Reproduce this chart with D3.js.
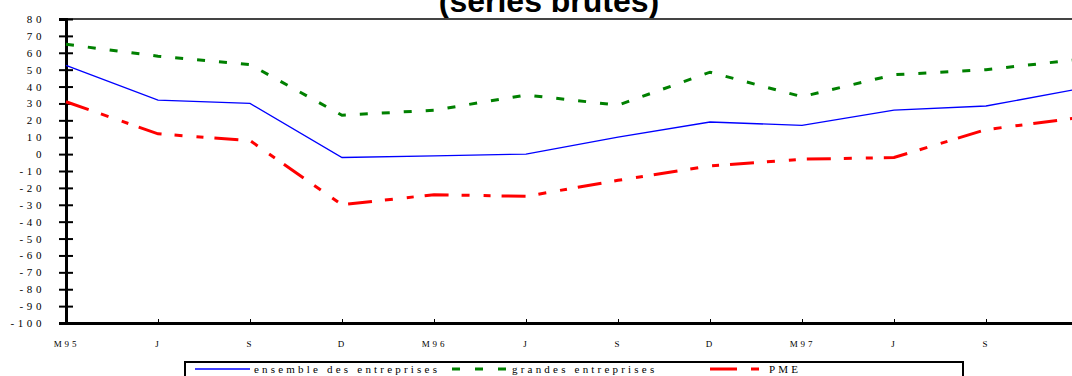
<!DOCTYPE html>
<html><head><meta charset="utf-8">
<script src="https://cdn.jsdelivr.net/npm/d3@7"></script>
<style>body{margin:0;background:#fff}svg{display:block}
.serif{font-family:"Liberation Serif","Times New Roman",serif}</style>
</head><body>
<svg id="c" width="1072" height="376"></svg>
<script>
const categories = ["M95","J","S","D","M96","J","S","D","M97","J","S",""];
const ensemble = [52.5, 32, 30, -2, -1, 0, 10, 19, 17, 26, 28.5, 38.5];
const grandes  = [65, 58, 53, 23, 26, 35, 29, 48.5, 34, 47, 50, 56];
const pme      = [31, 12, 8, -30, -24, -25, -15.5, -7, -3, -2, 14.5, 21.5];
const yTicks = d3.range(-100, 81, 10);
const title = "(séries brutes)";
const legendLabels = ["ensemble des entreprises", "grandes entreprises", "PME"];

const svg = d3.select("#c");
const x = d3.scaleLinear().domain([0, 11]).range([66, 1078]);
const y = d3.scaleLinear().domain([-100, 80]).range([323, 19]);

// title
svg.append("text").attr("x", 549).attr("y", 11.5).attr("text-anchor", "middle")
  .style("font-family", "'Liberation Sans', Arial, sans-serif").attr("font-weight", "bold")
  .attr("font-size", 32).text(title);

// top border
svg.append("line").attr("x1", x(0)).attr("x2", 1072).attr("y1", y(80)).attr("y2", y(80))
  .attr("stroke", "#444").attr("stroke-width", 2);

// y axis
const ya = svg.append("g").attr("transform", `translate(${x(0)},0)`)
  .call(d3.axisLeft(y).tickValues(yTicks).tickSize(7).tickFormat(d => String(d)));
ya.select(".domain").attr("stroke", "#000").attr("stroke-width", 3);
ya.selectAll(".tick line").attr("x1", -7).attr("x2", 7).attr("stroke", "#000").attr("stroke-width", 2);
ya.selectAll(".tick text").attr("x", -21).attr("class", "serif")
  .attr("font-size", 11).attr("letter-spacing", "3.6px").attr("fill", "#000");

// x axis
const xa = svg.append("g").attr("transform", `translate(0,${y(-100)})`)
  .call(d3.axisBottom(x).tickValues(d3.range(0, 12)).tickSize(-4).tickFormat(i => categories[i]));
xa.select(".domain").attr("stroke", "#000").attr("stroke-width", 3);
xa.selectAll(".tick line").attr("stroke", "#000").attr("stroke-width", 1);
xa.selectAll(".tick text").attr("y", 18).attr("dy", "0.71em").attr("class", "serif")
  .attr("font-size", 9).attr("letter-spacing", "2.8px").attr("fill", "#000");

const line = d3.line().x((d, i) => x(i)).y(d => y(d));
const series = [
  {data: ensemble, color: "#0000ff", w: 1.3, dash: null},
  {data: grandes, color: "#008000", w: 3, dash: "8,14"},
  {data: pme, color: "#ff0000", w: 3, dash: "24,13,8,14,7,11"}
];
svg.append("defs").append("clipPath").attr("id", "clip").append("rect")
  .attr("x", 0).attr("y", 0).attr("width", 1072).attr("height", 376);
series.forEach(s => {
  svg.append("path").attr("d", line(s.data)).attr("fill", "none")
    .attr("stroke", s.color).attr("stroke-width", s.w)
    .attr("stroke-dasharray", s.dash).attr("clip-path", "url(#clip)");
});

// legend
const lg = svg.append("g");
lg.append("rect").attr("x", 185).attr("y", 362).attr("width", 778).attr("height", 30)
  .attr("fill", "#fff").attr("stroke", "#000").attr("stroke-width", 2);
const legendItems = [
  {x1: 195, x2: 250, tx: 254, color: "#0000ff", w: 1.3, dash: null},
  {x1: 452, x2: 506, tx: 512, color: "#008000", w: 3, dash: "8,15"},
  {x1: 710, x2: 759, tx: 769, color: "#ff0000", w: 3, dash: "27,14,8,100"}
];
legendItems.forEach((it, i) => {
  lg.append("line").attr("x1", it.x1).attr("x2", it.x2).attr("y1", 369).attr("y2", 369)
    .attr("stroke", it.color).attr("stroke-width", it.w).attr("stroke-dasharray", it.dash);
  lg.append("text").attr("x", it.tx).attr("y", 373).attr("class", "serif")
    .attr("font-size", 11).attr("letter-spacing", "3.2px").text(legendLabels[i]);
});
</script>
</body></html>
